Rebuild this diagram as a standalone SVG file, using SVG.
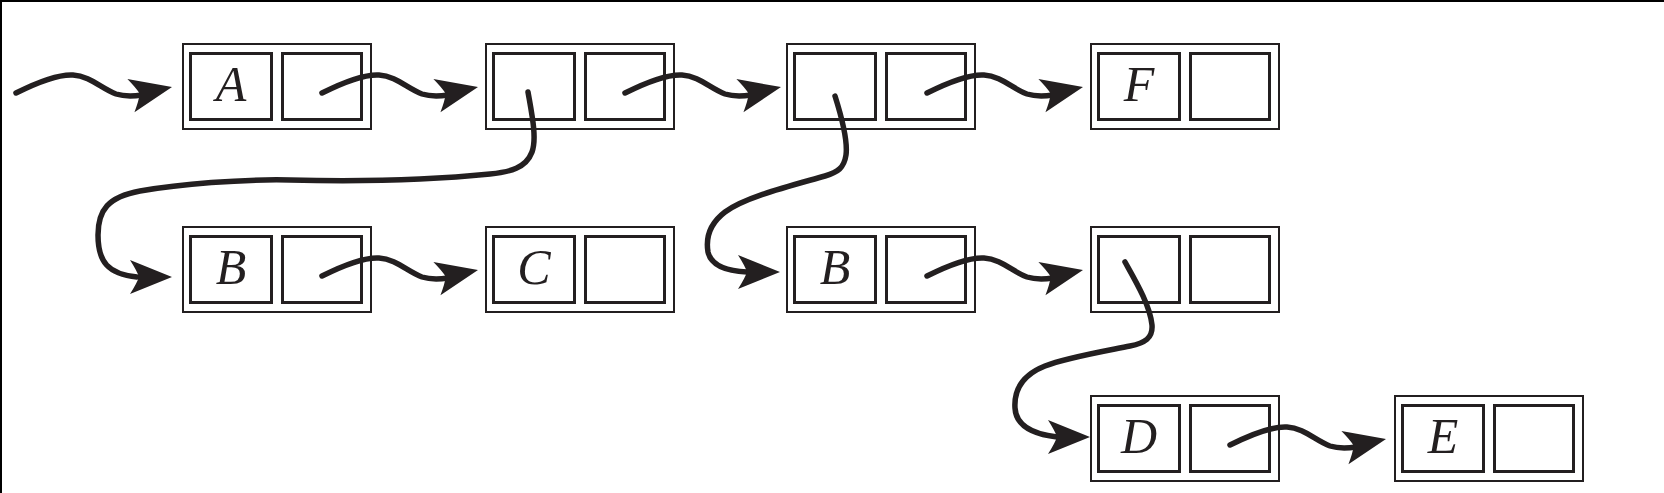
<svg xmlns="http://www.w3.org/2000/svg" width="1664" height="493" viewBox="0 0 1664 493">
<defs>
<style>
.outer{fill:none;stroke:#231f20;stroke-width:2}
.cell{fill:none;stroke:#231f20;stroke-width:3}
.lbl{font-family:"Liberation Serif","DejaVu Serif",serif;font-style:italic;font-size:50px;fill:#231f20;text-anchor:middle}
.wire{fill:none;stroke:#231f20;stroke-width:5.5;stroke-linecap:round;stroke-linejoin:round}
.head{fill:#231f20;stroke:none}
.frame{stroke:#000;stroke-width:2}
</style>
<path id="ah" class="head" d="M0,0 L-42,-17 Q-35,-6 -33,0 Q-35,6 -42,17 Z"/>
<g id="wave">
<path class="wire" d="M0,0 C18,-9 40,-19 57,-18 C74,-17 86,-4 100,1 C108,3.5 116,3.5 126,2"/>
<use href="#ah" transform="translate(156,-6) rotate(-12)"/>
</g>
</defs>
<rect width="1664" height="493" fill="#fff"/>
<line class="frame" x1="0" y1="1" x2="1664" y2="1"/>
<line class="frame" x1="1" y1="0" x2="1" y2="493"/>

<g id="n1" transform="translate(182,43)"><rect class="outer" x="1" y="1" width="188" height="85"/><rect class="cell" x="8.5" y="10.5" width="81" height="66"/><rect class="cell" x="100.5" y="10.5" width="79" height="66"/><text class="lbl" x="49" y="58">A</text></g>
<g id="n2" transform="translate(485,43)"><rect class="outer" x="1" y="1" width="188" height="85"/><rect class="cell" x="8.5" y="10.5" width="81" height="66"/><rect class="cell" x="100.5" y="10.5" width="79" height="66"/></g>
<g id="n3" transform="translate(786,43)"><rect class="outer" x="1" y="1" width="188" height="85"/><rect class="cell" x="8.5" y="10.5" width="81" height="66"/><rect class="cell" x="100.5" y="10.5" width="79" height="66"/></g>
<g id="n4" transform="translate(1090,43)"><rect class="outer" x="1" y="1" width="188" height="85"/><rect class="cell" x="8.5" y="10.5" width="81" height="66"/><rect class="cell" x="100.5" y="10.5" width="79" height="66"/><text class="lbl" x="49" y="58">F</text></g>
<g id="n5" transform="translate(182,226)"><rect class="outer" x="1" y="1" width="188" height="85"/><rect class="cell" x="8.5" y="10.5" width="81" height="66"/><rect class="cell" x="100.5" y="10.5" width="79" height="66"/><text class="lbl" x="49" y="58">B</text></g>
<g id="n6" transform="translate(485,226)"><rect class="outer" x="1" y="1" width="188" height="85"/><rect class="cell" x="8.5" y="10.5" width="81" height="66"/><rect class="cell" x="100.5" y="10.5" width="79" height="66"/><text class="lbl" x="49" y="58">C</text></g>
<g id="n7" transform="translate(786,226)"><rect class="outer" x="1" y="1" width="188" height="85"/><rect class="cell" x="8.5" y="10.5" width="81" height="66"/><rect class="cell" x="100.5" y="10.5" width="79" height="66"/><text class="lbl" x="49" y="58">B</text></g>
<g id="n8" transform="translate(1090,226)"><rect class="outer" x="1" y="1" width="188" height="85"/><rect class="cell" x="8.5" y="10.5" width="81" height="66"/><rect class="cell" x="100.5" y="10.5" width="79" height="66"/></g>
<g id="n9" transform="translate(1090,395)"><rect class="outer" x="1" y="1" width="188" height="85"/><rect class="cell" x="8.5" y="10.5" width="81" height="66"/><rect class="cell" x="100.5" y="10.5" width="79" height="66"/><text class="lbl" x="49" y="58">D</text></g>
<g id="n10" transform="translate(1394,395)"><rect class="outer" x="1" y="1" width="188" height="85"/><rect class="cell" x="8.5" y="10.5" width="81" height="66"/><rect class="cell" x="100.5" y="10.5" width="79" height="66"/><text class="lbl" x="49" y="58">E</text></g>

<g id="connectors">
<use href="#wave" x="16" y="93"/>
<use href="#wave" x="322" y="93"/>
<use href="#wave" x="625" y="93"/>
<use href="#wave" x="927" y="93"/>
<use href="#wave" x="322" y="276"/>
<use href="#wave" x="927" y="276"/>
<use href="#wave" x="1230" y="445"/>
<path class="wire" d="M528,92 C532,115 537,138 532,152 C526,168 510,172 490,174 C440,179 370,182 290,180 C240,179 180,184 140,191 C108,197 98,210 98,235 C98,262 108,274 137,277"/>
<use href="#ah" transform="translate(172,277)"/>
<path class="wire" d="M835,96 C841,115 848,140 846,155 C844,168 838,172 825,176 C790,186 745,197 725,212 C708,225 706,240 708,252 C711,265 725,271 747,272"/>
<use href="#ah" transform="translate(780,272)"/>
<path class="wire" d="M1125,262 C1135,280 1150,305 1152,325 C1153,338 1145,343 1130,346 C1100,352 1065,358 1045,366 C1020,376 1014,392 1015,408 C1016,425 1030,434 1057,437"/>
<use href="#ah" transform="translate(1090,437)"/>
</g>
</svg>
